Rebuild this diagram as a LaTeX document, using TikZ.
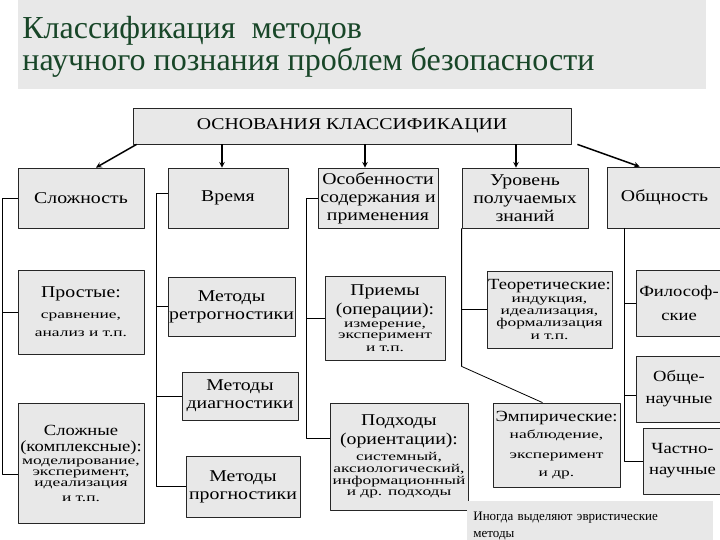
\documentclass[tikz,border=0pt]{standalone}
\usepackage{fontspec}
\setmainfont{Liberation Serif}
\newfontfamily\boxfont[FakeStretch=1.2]{Liberation Serif}
\newfontfamily\smfont[FakeStretch=1.45]{Liberation Serif}
\newfontfamily\titlefont{Liberation Serif}
\newcommand\bigt{\boxfont\fontsize{16.5}{18}\selectfont}
\newcommand\tight{\boxfont\fontsize{16.5}{12}\selectfont}
\newcommand\midt{\boxfont\fontsize{15.5}{16}\selectfont}
\newcommand\smt{\smfont\fontsize{12}{11}\selectfont}
\definecolor{fon}{RGB}{232,232,232}
\definecolor{zagl}{RGB}{24,70,40}
\tikzset{blok/.style 2 args={draw=black!85, fill=fon, inner sep=0pt, align=center, font=\bigt, minimum width=#1, minimum height=#2},
  arr/.style={->, line width=1.5pt}}
\begin{document}
\begin{tikzpicture}[x=1pt,y=-1pt, line join=round, >=stealth, line width=0.8pt] % основания классификации
\useasboundingbox (0,0) rectangle (720,540);
\fill[fon] (18,0) rectangle (706,89);
\node[anchor=north west, align=left, inner sep=0pt, text=zagl, font=\titlefont\fontsize{32}{32}\selectfont] (ttl) at (22,16) {Классификация~ методов\\научного познания проблем безопасности};
\node[blok={438}{36}] (osn) at (352,126) {ОСНОВАНИЯ КЛАССИФИКАЦИИ};
\node[blok={126}{60}] (slozh) at (81,198) {Сложность};
\node[blok={120}{60}] (vremya) at (228,198) {Время};
\node[blok={120}{60}] (osob) at (378,198) {Особенности\\содержания и\\применения};
\node[blok={126}{60}] (urov) at (525,198) {Уровень\\получаемых\\знаний};
\node[blok={115}{61}] (obsh) at (664.5,197.5) {Общность};
\node[blok={126}{84}, font=\tight] (prost) at (81,312) {Простые:\\[9pt]\smt сравнение,\\[6pt]\smt анализ и т.п.};
\node[blok={126}{120}, font=\tight] (slozhn) at (81,463) {\midt Сложные\\[4pt]\midt (комплексные):\\[1pt]\smt моделирование,\\[-1pt]\smt эксперимент,\\[-1pt]\smt идеализация\\[3pt]\smt и т.п.};
\node[blok={127}{59}] (retro) at (231.5,306.5) {Методы\\ретрогностики};
\node[blok={116}{48}] (diagn) at (240,396) {Методы\\диагностики};
\node[blok={114}{61}] (progn) at (243,486.5) {Методы\\прогностики};
\node[blok={120}{84}, font=\tight] (priem) at (385,318) {Приемы\\[3pt](операции):\\[1pt]\smt измерение,\\[-1pt]\smt эксперимент\\[1pt]\smt и т.п.};
\node[blok={138}{107}, font=\tight] (podh) at (399,456.5) {Подходы\\[3pt](ориентации):\\[4pt]\smt системный,\\\smt аксиологический,\\\smt информационный\\[-1pt]\smt и др. подходы};
\node[blok={125}{77}, font=\tight] (teor) at (549.5,309.5) {\midt Теоретические:\\[1pt]\smt индукция,\\\smt идеализация,\\\smt формализация\\[1pt]\smt и т.п.};
\node[blok={127}{84}, font=\tight] (emp) at (556.5,445) {\midt Эмпирические:\\[5pt]\smt наблюдение,\\[8pt]\smt эксперимент\\[6pt]\smt и др.};
\node[blok={86}{66}, font=\midt] (filos) at (679,303) {Философ-\\[8pt]ские};
\node[blok={86}{66}, font=\midt] (obshe) at (679,389) {Обще-\\[6pt]научные};
\node[blok={79}{66}, font=\midt] (chast) at (682.5,461) {Частно-\\[5pt]научные};
\node[fill=fon, anchor=north west, minimum height=50, text width=234, inner xsep=6pt, align=left, font=\fontsize{13}{17}\selectfont] (note) at (467,501) {Иногда выделяют эвристические\\методы};
% стрелки
\draw[arr] ([xshift=4pt]osn.south west) -- ([xshift=15pt]slozh.north);
\draw[arr] ([xshift=-6pt]vremya.north) coordinate (a2) (osn.south -| a2) -- (a2);
\draw[arr] ([xshift=-13pt]osob.north) coordinate (a3) (osn.south -| a3) -- (a3);
\draw[arr] ([xshift=-9pt]urov.north) coordinate (a4) (osn.south -| a4) -- (a4);
\draw[arr] ([xshift=6pt]osn.south east) -- ([xshift=33pt]obsh.north west);
% связи
\draw (slozh.west) -- ++(-15,0) coordinate (b1) |- ([yshift=-11pt]slozhn.west);
\draw (b1 |- prost.west) -- (prost.west);
\draw ([yshift=5pt]vremya.west) -- ++(-11,0) coordinate (b2) |- (progn.west);
\draw (b2 |- retro.west) -- (retro.west);
\draw (b2 |- diagn.west) -- (diagn.west);
\draw (osob.west) -- ++(-11,0) coordinate (b3) |- ([yshift=18pt]podh.west);
\draw (b3 |- priem.west) -- (priem.west);
\draw (urov.south west) -- ++(0,138) coordinate (b4) -- ([xshift=-14pt]emp.north);
\draw (b4 |- teor.west) -- (teor.west);
\draw ([xshift=18pt]obsh.south west) coordinate (b5) -- (b5 |- chast.west) -- (chast.west);
\draw (b5 |- filos.west) -- (filos.west);
\draw ([yshift=-6pt]obshe.west) coordinate (o2) -- (b5 |- o2);
\end{tikzpicture}
\end{document}
